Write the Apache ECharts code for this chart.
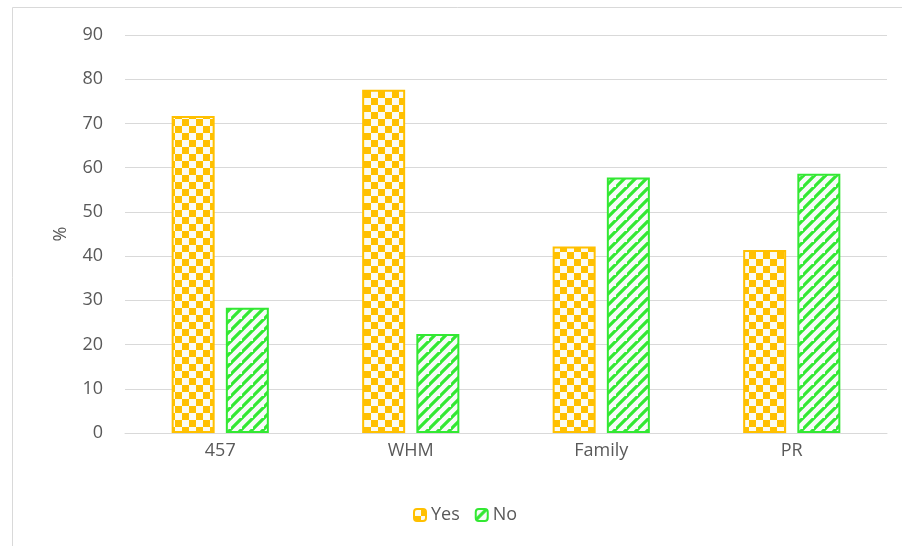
<!DOCTYPE html>
<html>
<head>
<meta charset="utf-8">
<script src="https://cdn.jsdelivr.net/npm/echarts@6/dist/echarts.min.js"></script>
<style>
  html, body { margin: 0; padding: 0; background: #fff; }
  #chart { width: 902px; height: 546px; }
</style>
</head>
<body>
<div id="chart"></div>
<script>
const categories = ['457', 'WHM', 'Family', 'PR'];
const yesValues = [71.7, 77.6, 42.2, 41.4];
const noValues = [28.3, 22.4, 57.8, 58.6];
const seriesNames = ['Yes', 'No'];

// checkerboard fill for "Yes"
function checkerPattern() {
  const c = document.createElement('canvas');
  c.width = 14; c.height = 14;
  const ctx = c.getContext('2d');
  ctx.fillStyle = '#FFC000';
  ctx.fillRect(0, 0, 14, 14);
  ctx.fillStyle = '#fbfbf3';
  ctx.fillRect(0, 0, 7, 7);
  ctx.fillRect(7, 7, 7, 7);
  return c;
}

// wide upward diagonal stripes for "No"
function stripePattern() {
  const s = 11;
  const c = document.createElement('canvas');
  c.width = s; c.height = s;
  const ctx = c.getContext('2d');
  ctx.fillStyle = '#f8fbf8';
  ctx.fillRect(0, 0, s, s);
  ctx.strokeStyle = '#33e833';
  ctx.lineWidth = 3.2;
  ctx.beginPath();
  ctx.moveTo(-1, s + 1); ctx.lineTo(s + 1, -1);
  ctx.moveTo(-s - 1, s + 1); ctx.lineTo(1, -1);
  ctx.moveTo(s - 1, 2 * s + 1); ctx.lineTo(2 * s + 1, s - 1);
  ctx.stroke();
  return c;
}

const chart = echarts.init(document.getElementById('chart'));
const font = 'Open Sans';

const option = {
  animation: false,
  backgroundColor: '#fff',
  graphic: [{
    type: 'rect',
    shape: { x: 12.5, y: 7.5, width: 900, height: 560 },
    style: { fill: 'none', stroke: '#d9d9d9', lineWidth: 1 },
    silent: true
  }],
  grid: { left: 125, right: 15, top: 35, bottom: 113 },
  legend: {
    data: seriesNames,
    top: 501,
    left: 408,
    itemWidth: 12,
    itemHeight: 12,
    itemGap: 15,
    textStyle: { fontFamily: font, fontSize: 18, color: '#595959' }
  },
  xAxis: {
    type: 'category',
    data: categories,
    axisLine: { lineStyle: { color: '#d9d9d9', width: 1 } },
    axisTick: { show: false },
    axisLabel: { fontFamily: font, fontSize: 18, color: '#595959', margin: 9 }
  },
  yAxis: {
    type: 'value',
    min: 0,
    max: 90,
    interval: 10,
    name: '%',
    nameLocation: 'middle',
    nameGap: 55,
    nameRotate: 90,
    nameTextStyle: { fontFamily: font, fontSize: 18, color: '#595959' },
    axisLine: { show: false },
    axisTick: { show: false },
    splitLine: { lineStyle: { color: '#d9d9d9', width: 1 } },
    axisLabel: { fontFamily: font, fontSize: 18, color: '#595959', margin: 22 }
  },
  series: [
    {
      name: 'Yes',
      type: 'bar',
      data: yesValues,
      barWidth: 43,
      barGap: '26%',
      itemStyle: {
        color: { image: checkerPattern(), repeat: 'repeat' },
        borderColor: '#FFC000',
        borderWidth: 2
      }
    },
    {
      name: 'No',
      type: 'bar',
      data: noValues,
      barWidth: 43,
      itemStyle: {
        color: { image: stripePattern(), repeat: 'repeat' },
        borderColor: '#33e833',
        borderWidth: 2
      }
    }
  ]
};

chart.setOption(option);
window.onresize = function () {
  chart.resize();
};
</script>
</body>
</html>
